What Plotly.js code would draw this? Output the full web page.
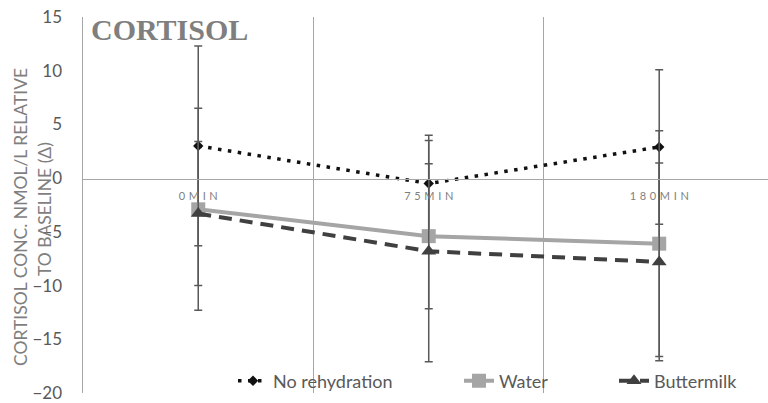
<!DOCTYPE html>
<html>
<head>
<meta charset="utf-8">
<script src="https://cdn.plot.ly/plotly-3.0.1.min.js"></script>
<style>html,body{margin:0;padding:0;background:#fff;}#chart{width:768px;height:403px;}</style>
</head>
<body>
<div id="chart"></div>
<script>
// ---- data ----
const categories = ["0MIN", "75MIN", "180MIN"];
const noRehydration = [3.0, -0.5, 2.9];
const noRehydrationErr = [9.3, 4.5, 7.2];
const water = [-2.9, -5.4, -6.1];
const waterErr = [9.4, 6.75, 10.5];
const buttermilk = [-3.3, -6.8, -7.8];
const buttermilkErr = [6.7, 10.3, 9.2];
const yTickVals = [-20, -15, -10, -5, 0, 5, 10, 15];
const seriesNames = ["No rehydration", "Water", "Buttermilk"];

// ---- layout helpers (pixel -> paper) ----
const W = 768, H = 403, L = 83, R = 0, T = 17, B = 10;
const pw = W - L - R, ph = H - T - B;
const px = x => (x - L) / pw;
const py = y => (H - B - y) / ph;

const errStyle = {type: 'data', visible: true, color: '#595959', thickness: 1.5, width: 4};
const spaced = s => s.split('').join('\u2004');

const traces = [
  {
    x: categories, y: noRehydration, name: seriesNames[0], type: 'scatter', mode: 'lines+markers',
    line: {color: '#111111', width: 3.5, dash: '3.5px,6.5px'},
    marker: {symbol: 'diamond', size: 8, color: '#111111'},
    error_y: Object.assign({array: noRehydrationErr}, errStyle),
    legend: 'legend'
  },
  {
    x: categories, y: water, name: seriesNames[1], type: 'scatter', mode: 'lines+markers',
    line: {color: '#A5A5A5', width: 4},
    marker: {symbol: 'square', size: 14, color: '#A5A5A5'},
    error_y: Object.assign({array: waterErr}, errStyle),
    legend: 'legend2'
  },
  {
    x: categories, y: buttermilk, name: seriesNames[2], type: 'scatter', mode: 'lines+markers',
    line: {color: '#404040', width: 4, dash: '13px,8px'},
    marker: {symbol: 'triangle-up', size: 13, color: '#404040'},
    error_y: Object.assign({array: buttermilkErr}, errStyle),
    legend: 'legend3'
  }
];

const legendBase = {orientation: 'h', xanchor: 'left', yanchor: 'middle', bgcolor: 'rgba(0,0,0,0)',
  font: {family: 'Lato, sans-serif', size: 18, color: '#595959'}, borderwidth: 0};

const layout = {
  width: W, height: H,
  margin: {l: L, r: R, t: T, b: B, pad: 0},
  paper_bgcolor: '#fff', plot_bgcolor: '#fff',
  showlegend: true,
  xaxis: {
    type: 'category', range: [-0.5, 2.472],
    tickvals: categories, ticktext: categories.map(spaced),
    tickson: 'boundaries', ticks: '',
    showgrid: true, gridcolor: '#A6A6A6', gridwidth: 1,
    showline: true, linecolor: '#A6A6A6', linewidth: 1.5,
    anchor: 'free', position: py(178.5),
    tickfont: {family: 'Lato, sans-serif', size: 11, color: '#7F7F7F'},
    ticklabelstandoff: 7,
    zeroline: false, fixedrange: true
  },
  yaxis: {
    range: [-20, 15], tickvals: yTickVals,
    showgrid: false, zeroline: false,
    showline: true, linecolor: '#A6A6A6', linewidth: 1.5,
    ticks: '', ticklabelstandoff: 16, ticklabeloverflow: 'allow',
    tickfont: {family: 'Lato, sans-serif', size: 17, color: '#595959'},
    fixedrange: true
  },
  legend: Object.assign({x: px(233), y: py(381)}, legendBase),
  legend2: Object.assign({x: px(459), y: py(381)}, legendBase),
  legend3: Object.assign({x: px(614), y: py(381)}, legendBase),
  annotations: [
    {text: '<b>CORTISOL</b>', xref: 'paper', yref: 'paper', x: px(89), y: py(30),
     xanchor: 'left', yanchor: 'middle', showarrow: false,
     font: {family: 'Liberation Serif, serif', size: 30, color: '#7F7F7F'}},
    {text: 'CORTISOL CONC. NMOL/L RELATIVE', xref: 'paper', yref: 'paper', x: px(20), y: py(217),
     xanchor: 'center', yanchor: 'middle', textangle: -90, showarrow: false,
     font: {family: 'Lato, sans-serif', size: 17.5, color: '#7F7F7F'}},
    {text: 'TO BASELINE (Δ)', xref: 'paper', yref: 'paper', x: px(44), y: py(209),
     xanchor: 'center', yanchor: 'middle', textangle: -90, showarrow: false,
     font: {family: 'Lato, sans-serif', size: 17.5, color: '#7F7F7F'}}
  ]
};

Plotly.newPlot('chart', traces, layout, {staticPlot: true, displayModeBar: false});
</script>
</body>
</html>
